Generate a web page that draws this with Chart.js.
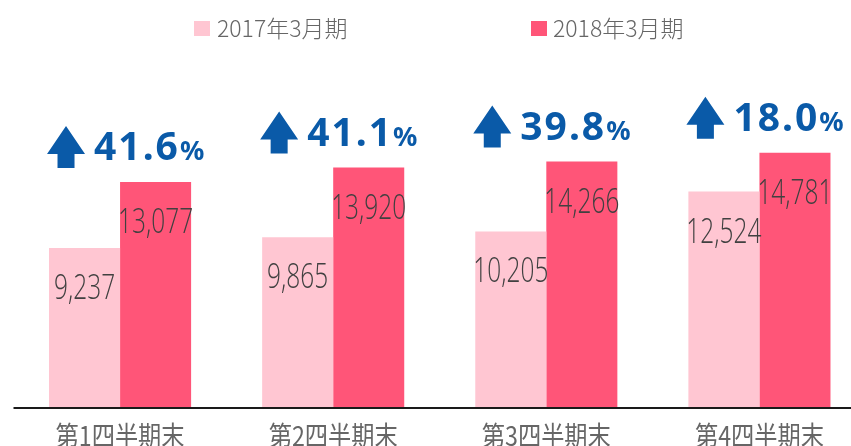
<!DOCTYPE html>
<html>
<head>
<meta charset="utf-8">
<script src="https://cdn.jsdelivr.net/npm/chart.js@4.4.1/dist/chart.umd.min.js"></script>
<style>
html,body{margin:0;padding:0;background:#fff;overflow:hidden;}
#wrap{width:866px;height:446px;position:relative;}
</style>
</head>
<body>
<div id="wrap"><canvas id="c"></canvas></div>
<script>
const categories = ['第1四半期末', '第2四半期末', '第3四半期末', '第4四半期末'];
const seriesNames = ['2017年3月期', '2018年3月期'];
const values2017 = [9237, 9865, 10205, 12524];
const values2018 = [13077, 13920, 14266, 14781];
const growthLabels = ['41.6', '41.1', '39.8', '18.0'];

const PINK = '#ffc6d2';
const RED = '#ff5578';
const BLUE = '#0a5aa8';

const overlay = {
  id: 'overlay',
  afterDatasetsDraw(chart) {
    const ctx = chart.ctx;
    const xs = chart.scales.x, ys = chart.scales.y;
    const area = chart.chartArea;
    ctx.save();
    // baseline
    const y0 = ys.getPixelForValue(0);
    ctx.strokeStyle = '#1a1a1a';
    ctx.lineWidth = 2;
    ctx.beginPath();
    ctx.moveTo(area.left, y0 + 1);
    ctx.lineTo(area.right, y0 + 1);
    ctx.stroke();

    // value labels
    ctx.fillStyle = '#404040';
    ctx.textAlign = 'center';
    ctx.textBaseline = 'alphabetic';
    chart.data.datasets.forEach((ds, di) => {
      const meta = chart.getDatasetMeta(di);
      meta.data.forEach((el, i) => {
        ctx.save();
        ctx.translate(el.x, el.y + 51);
        ctx.scale(0.72, 1);
        ctx.font = '300 34px "Open Sans", "Noto Sans", sans-serif';
        ctx.fillText(ds.data[i].toLocaleString('en-US'), 0, 0);
        ctx.restore();
      });
    });

    // category labels
    ctx.fillStyle = '#666666';
    categories.forEach((c, i) => {
      ctx.save();
      ctx.translate(xs.getPixelForValue(i), 446);
      ctx.scale(0.86, 1);
      ctx.font = '27px "Noto Sans CJK JP", sans-serif';
      ctx.fillText(c, 0, 0);
      ctx.restore();
    });

    // growth arrows
    const m0 = chart.getDatasetMeta(0), m1 = chart.getDatasetMeta(1);
    growthLabels.forEach((g, i) => {
      const pink = m0.data[i], red = m1.data[i];
      const L = pink.x - pink.width / 2 - 2;
      const base = red.y - 22;
      const T = base - 34;
      ctx.fillStyle = BLUE;
      ctx.beginPath();
      ctx.moveTo(L + 19, T);
      ctx.lineTo(L + 38, T + 28);
      ctx.lineTo(L + 27.5, T + 28);
      ctx.lineTo(L + 27.5, T + 42);
      ctx.lineTo(L + 10.5, T + 42);
      ctx.lineTo(L + 10.5, T + 28);
      ctx.lineTo(L, T + 28);
      ctx.closePath();
      ctx.fill();
      const tx = L + 47;
      ctx.textAlign = 'left';
      ctx.font = 'bold 39px "Noto Sans", sans-serif';
      ctx.letterSpacing = '2px';
      ctx.fillText(g, tx, base);
      const w = ctx.measureText(g).width;
      ctx.letterSpacing = '0px';
      ctx.font = 'bold 27px "Noto Sans", sans-serif';
      ctx.fillText('%', tx + w, base);
    });

    // legend
    const legendPos = [[194, 217], [531, 553]];
    chart.data.datasets.forEach((ds, di) => {
      const [sx, tx] = legendPos[di];
      ctx.fillStyle = ds.backgroundColor;
      ctx.fillRect(sx, 21, 16, 15);
      ctx.fillStyle = '#666666';
      ctx.textAlign = 'left';
      ctx.font = '300 23px "Noto Sans CJK JP", sans-serif';
      ctx.fillText(ds.label, tx, 37);
    });
    ctx.restore();
  }
};

new Chart(document.getElementById('c'), {
  type: 'bar',
  data: {
    labels: categories,
    datasets: [
      { label: seriesNames[0], data: values2017, backgroundColor: PINK, borderWidth: 0 },
      { label: seriesNames[1], data: values2018, backgroundColor: RED, borderWidth: 0 }
    ]
  },
  options: {
    responsive: true,
    maintainAspectRatio: false,
    animation: false,
    layout: { padding: { left: 13.5, right: 0, top: 63, bottom: 39 } },
    datasets: { bar: { categoryPercentage: 0.6667, barPercentage: 1.0 } },
    plugins: { legend: { display: false }, tooltip: { enabled: false } },
    scales: {
      x: { display: false },
      y: { display: false, min: 0, max: 20000 }
    }
  },
  plugins: [overlay]
});
</script>
</body>
</html>
